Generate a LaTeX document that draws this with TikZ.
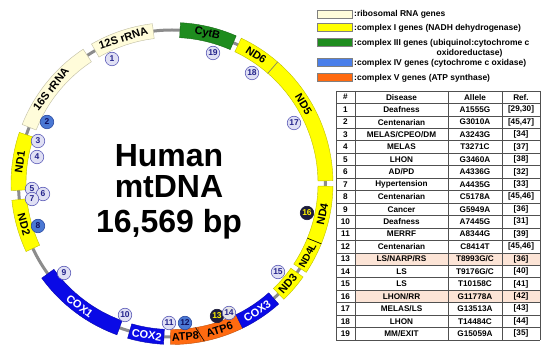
\documentclass[tikz,border=0pt]{standalone}
\usepackage{fontspec}
\setmainfont{Liberation Sans}
\usetikzlibrary{calc}
\definecolor{rrna}{HTML}{FFFCDA}
\definecolor{cyel}{HTML}{FFFF00}
\definecolor{cgreen}{HTML}{1E8C1E}
\definecolor{cblue}{HTML}{0A0AE6}
\definecolor{legblue}{HTML}{4A7FEA}
\definecolor{corange}{HTML}{FF6A10}
\definecolor{ringgray}{HTML}{8C8C8C}
\definecolor{numfill}{HTML}{E0E0F4}
\definecolor{numdraw}{HTML}{5C5CB8}
\definecolor{numtext}{HTML}{24248C}
\definecolor{nblue}{HTML}{4A78D4}
\definecolor{nbluedraw}{HTML}{2A4AA0}
\definecolor{nbluetext}{HTML}{101060}
\definecolor{ndark}{HTML}{1C1C3C}
\definecolor{peach}{HTML}{FCE4D6}
\definecolor{tline}{HTML}{505050}
\newcommand\genesector[3]{%
  \filldraw[fill=#3, draw=#3!75!black, line width=0.4pt]
    ($(C)+(-#1:146)$) arc[start angle=-#1, end angle=-#2, radius=146]
    -- ($(C)+(-#2:161)$) arc[start angle=-#2, end angle=-#1, radius=161] -- cycle;}
\newcommand\trow[4]{%
  \pgfmathsetmacro\yc{91+(#1+0.5)*12.45}
  \node[tcell] (n#1) at (345.5,\yc) {#1};
  \node[tcell] (d#1) at (401.5,\yc) {#2};
  \node[tcell] (a#1) at (475,\yc) {#3};
  \node[tcell] (r#1) at (521,\yc) {#4};}
\begin{document}
\begin{tikzpicture}[x=1pt,y=-1pt,
  num/.style={circle, draw=numdraw, fill=numfill, text=numtext, inner sep=0pt,
    minimum size=13.5pt, line width=0.6pt, font=\bfseries\fontsize{8.5}{8.5}\selectfont},
  numblue/.style={num, fill=nblue, draw=nbluedraw, text=nbluetext},
  numdark/.style={num, fill=ndark, draw=ndark, text=yellow},
  glabel/.style={inner sep=0pt, font=\bfseries\fontsize{11}{11}\selectfont},
  legbox/.style={draw=gray, line width=0.6pt},
  legtext/.style={anchor=west, inner sep=0pt, font=\bfseries\fontsize{8.5}{8.5}\selectfont},
  tcell/.style={inner sep=0pt, font=\bfseries\fontsize{8.2}{8.2}\selectfont},
  bigtext/.style={anchor=base, inner sep=0pt, font=\bfseries\fontsize{32}{32}\selectfont}]
\useasboundingbox (0,0) rectangle (550,355);
\fill[white] (0,0) rectangle (550,355);
\coordinate (C) at (172,183.5);
\draw[ringgray, line width=3pt] (C) circle[radius=153.5];
% genes
\genesector{97}{120}{rrna}
\genesector{123.5}{158.5}{rrna}
\genesector{161.5}{182.5}{cyel}
\genesector{186}{205}{cyel}
\genesector{216}{250}{cblue}
\genesector{254}{267}{cblue}
\genesector{269.5}{280.3}{corange}
\genesector{280.3}{296}{corange}
\genesector{296}{311.5}{cblue}
\genesector{314}{324.5}{cyel}
\genesector{326.5}{338}{cyel}
\genesector{338}{359}{cyel}
\genesector{1}{49}{cyel}
\genesector{49}{64.5}{cyel}
\genesector{66.5}{87}{cgreen}
% separators
\draw[gray, line width=0.5pt] ($(C)+(-49:146)$) -- ($(C)+(-49:161)$);
\draw[black, line width=0.6pt] ($(C)+(-338:146)$) -- ($(C)+(-338:161)$);
\draw[black, line width=0.6pt] ($(C)+(-279.3:146)$) -- ($(C)+(-281.6:161)$);
% gene labels
\node[glabel, rotate=18.5] (g12s) at ($(C)+(-108.5:153.5)$) {12S rRNA};
\node[glabel, rotate=52] (g16s) at ($(C)+(-142:153.5)$) {16S rRNA};
\node[glabel, rotate=82] (gnd1) at ($(C)+(-172:153.5)$) {ND1};
\node[glabel, rotate=-74.5] (gnd2) at ($(C)+(-195.5:153.5)$) {ND2};
\node[glabel, rotate=-37, text=white] (gcox1) at ($(C)+(-233:153.5)$) {COX1};
\node[glabel, rotate=-9.5, text=white] (gcox2) at ($(C)+(-260.5:153.5)$) {COX2};
\node[glabel, rotate=5] (gatp8) at ($(C)+(-275:153.5)$) {ATP8};
\node[glabel, rotate=18] (gatp6) at ($(C)+(-288:153.5)$) {ATP6};
\node[glabel, rotate=33.75, text=white] (gcox3) at ($(C)+(-303.75:153.5)$) {COX3};
\node[glabel, rotate=49] (gnd3) at ($(C)+(-319:153.5)$) {ND3};
\node[glabel, rotate=62, font=\bfseries\fontsize{10}{10}\selectfont] (gnd4l) at ($(C)+(-332:153.5)$) {ND4L};
\node[glabel, rotate=78.5] (gnd4) at ($(C)+(-348.5:153.5)$) {ND4};
\node[glabel, rotate=-59] (gnd5) at ($(C)+(-31:153.5)$) {ND5};
\node[glabel, rotate=-33.25] (gnd6) at ($(C)+(-56.75:153.5)$) {ND6};
\node[glabel, rotate=-13.25] (gcytb) at ($(C)+(-76.75:153.5)$) {CytB};
% number markers
\node[num] (m1) at (112,59) {1};
\node[numblue] (m2) at (47,122) {2};
\node[num] (m3) at (38,141) {3};
\node[num] (m4) at (37,157) {4};
\node[num] (m5) at (32,189) {5};
\node[num] (m6) at (43,194) {6};
\node[num] (m7) at (32,199) {7};
\node[numblue] (m8) at (38,226) {8};
\node[num] (m9) at (64,273) {9};
\node[num] (m10) at (125,315) {10};
\node[num] (m11) at (169,323) {11};
\node[numblue] (m12) at (185,323) {12};
\node[numdark] (m13) at (217,316) {13};
\node[num, fill=gray!20] (m14) at (229,313) {14};
\node[num] (m15) at (278,272) {15};
\node[numdark] (m16) at (307,213) {16};
\node[num] (m17) at (294,123) {17};
\node[num] (m18) at (252,73) {18};
\node[num] (m19) at (213,53) {19};
% centre text
\node[bigtext] (t1) at (169,167) {Human};
\node[bigtext] (t2) at (169,198) {mtDNA};
\node[bigtext] (t3) at (169,233) {16,569 bp};
% legend
\draw[legbox, fill=rrna] (317,10) rectangle (352,18);
\draw[legbox, fill=cyel] (317,23.5) rectangle (352,31.5);
\draw[legbox, fill=cgreen] (317,38.5) rectangle (352,46.5);
\draw[legbox, fill=legblue] (317,58.5) rectangle (352,66.5);
\draw[legbox, fill=corange] (317,73.5) rectangle (352,81.5);
\node[legtext] (l1) at (354,14.5) {:ribosomal RNA genes};
\node[legtext] (l2) at (354,28) {:complex I genes (NADH dehydrogenase)};
\node[legtext] (l3) at (354,43) {:complex III genes (ubiquinol:cytochrome c};
\node[legtext] (l3b) at (436.5,53.5) {oxidoreductase)};
\node[legtext] (l4) at (354,63) {:complex IV genes (cytochrome c oxidase)};
\node[legtext] (l5) at (354,78) {:complex V genes (ATP synthase)};
% table
\fill[peach] (355,{91+13*12.45}) rectangle (540,{91+14*12.45});
\fill[peach] (355,{91+16*12.45}) rectangle (540,{91+17*12.45});
\foreach \k in {0,...,20} {\draw[tline, line width=0.6pt] (336,{91+\k*12.45}) -- (540,{91+\k*12.45});}
\foreach \xx in {336,355,448,502,540} {\draw[tline, line width=0.6pt] (\xx,91) -- (\xx,340);}
\node[tcell] (h1) at (345.5,97.2) {\#};
\node[tcell] (h2) at (401.5,97.2) {Disease};
\node[tcell] (h3) at (475,97.2) {Allele};
\node[tcell] (h4) at (521,97.2) {Ref.};
\trow{1}{Deafness}{A1555G}{[29,30]}
\trow{2}{Centenarian}{G3010A}{[45,47]}
\trow{3}{MELAS/CPEO/DM}{A3243G}{[34]}
\trow{4}{MELAS}{T3271C}{[37]}
\trow{5}{LHON}{G3460A}{[38]}
\trow{6}{AD/PD}{A4336G}{[32]}
\trow{7}{Hypertension}{A4435G}{[33]}
\trow{8}{Centenarian}{C5178A}{[45,46]}
\trow{9}{Cancer}{G5949A}{[36]}
\trow{10}{Deafness}{A7445G}{[31]}
\trow{11}{MERRF}{A8344G}{[39]}
\trow{12}{Centenarian}{C8414T}{[45,46]}
\trow{13}{LS/NARP/RS}{T8993G/C}{[36]}
\trow{14}{LS}{T9176G/C}{[40]}
\trow{15}{LS}{T10158C}{[41]}
\trow{16}{LHON/RR}{G11778A}{[42]}
\trow{17}{MELAS/LS}{G13513A}{[43]}
\trow{18}{LHON}{T14484C}{[44]}
\trow{19}{MM/EXIT}{G15059A}{[35]}
\end{tikzpicture}
\end{document}
